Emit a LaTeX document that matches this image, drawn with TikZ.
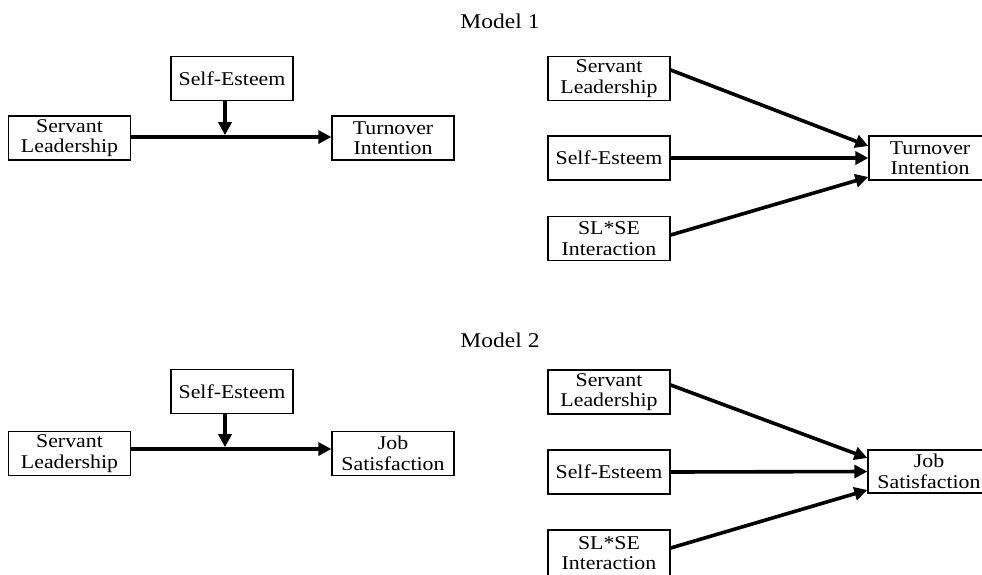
\documentclass[tikz,border=0pt]{standalone}
\usepackage{fontspec}
\setmainfont{Liberation Serif}[FakeStretch=1.12]
\usetikzlibrary{arrows.meta}
\begin{document}
\begin{tikzpicture}[x=1pt,y=-1pt,
  box/.style={draw, line width=1.3pt, minimum width=122pt, minimum height=44pt,
    align=center, inner sep=0pt, font=\fontsize{19.5}{20.5}\selectfont},
  ttl/.style={inner sep=0pt, font=\fontsize{21}{22}\selectfont},
  arr/.style={line width=3.6pt, -{Triangle[length=13pt,width=13pt]}}]
\useasboundingbox (0,0) rectangle (982,574);
\fill[white] (0,0) rectangle (982,574);

% titles
\node[ttl] (m1) at (500,21) {Model 1};
\node[ttl] (m2) at (500,340) {Model 2};

% Model 1 left
\node[box] (sl1) at (69.5,138) {Servant\\Leadership};
\node[box] (se1) at (232,78.5) {Self-Esteem};
\node[box] (ti1) at (393,138) {Turnover\\Intention};
\coordinate (j1) at (225,137);
\draw[arr] (sl1.east |- j1) -- (ti1.west |- j1);
\draw[arr] (se1.south -| j1) -- ([yshift=1.8pt]j1);

% Model 1 right
\node[box] (a1) at (609,78.5) {Servant\\Leadership};
\node[box] (b1) at (609,158) {Self-Esteem};
\node[box] (c1) at (609,238.5) {SL*SE\\Interaction};
\node[box] (t1) at (930,158) {Turnover\\Intention};
\draw[arr] ([yshift=8.5pt]a1.east) -- ([yshift=12pt]t1.west);
\draw[arr] (b1.east) -- (t1.west);
\draw[arr] ([yshift=3.5pt]c1.east) -- ([yshift=-19pt]t1.west);

% Model 2 left
\node[box] (sl2) at (69.5,453.5) {Servant\\Leadership};
\node[box] (se2) at (232,391.5) {Self-Esteem};
\node[box] (js2) at (393,453.5) {Job\\Satisfaction};
\coordinate (j2) at (225,449);
\draw[arr] (sl2.east |- j2) -- (js2.west |- j2);
\draw[arr] (se2.south -| j2) -- ([yshift=1.8pt]j2);

% Model 2 right
\node[box] (a2) at (609,392) {Servant\\Leadership};
\node[box] (b2) at (609,472) {Self-Esteem};
\node[box, minimum height=46pt] (c2) at (609,553) {SL*SE\\Interaction};
\node[box, minimum height=43pt] (t2) at (929,471.5) {Job\\Satisfaction};
\draw[arr] ([yshift=7pt]a2.east) -- ([yshift=13.5pt]t2.west);
\draw[arr] (b2.east) -- (t2.west);
\draw[arr] ([yshift=5pt]c2.east) -- ([yshift=-18.5pt]t2.west);
\end{tikzpicture}
\end{document}
